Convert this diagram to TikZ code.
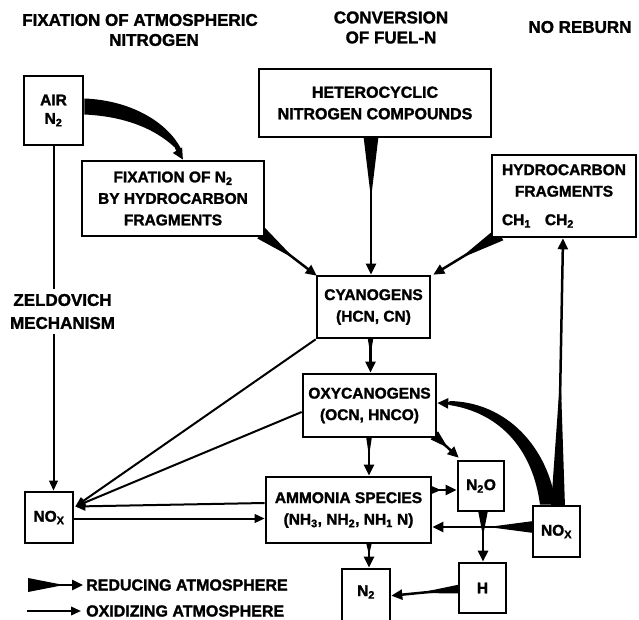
\documentclass[tikz,border=0pt]{standalone}
\usepackage{fontspec}
\setmainfont{Liberation Sans}[BoldFont={Liberation Sans Bold}, BoldFeatures={FakeBold=1.6}]
\usetikzlibrary{arrows.meta,calc}
\pgfdeclarelayer{paper}
\pgfdeclarelayer{links}
\pgfsetlayers{paper,links,main}

\newcommand\titlefont{\fontsize{17}{20}\selectfont\bfseries}
\newcommand\boxtextfont{\fontsize{15.5}{21.5}\selectfont\bfseries}
\newcommand\legendfont{\fontsize{16}{19}\selectfont\bfseries}

% tapered arrow for a reducing atmosphere:
% wedge of half-width #3 at (#1) narrowing to a line at fraction #4, arrow tip at (#2)
\newcommand\taperarrow[4]{%
  \fill ($(#1)!#3!90:(#2)$) -- ($(#1)!#4!(#2)$) -- ($(#1)!#3!-90:(#2)$) -- cycle;
  \draw[reducing] (#1) -- (#2);}

\tikzset{
  box/.style={draw, fill=white, line width=2.6pt, inner sep=0pt, align=center, font=\boxtextfont},
  heading/.style={align=center, font=\titlefont, inner sep=0pt},
  legendtext/.style={anchor=west, inner sep=0pt, font=\legendfont},
  reducing/.style={line width=2.5pt, -{Triangle[length=11pt,width=10pt]}},
  oxidizing/.style={line width=2pt, -{Triangle[length=10pt,width=8.5pt]}},
}

\begin{document}
\begin{tikzpicture}[x=1pt,y=-1pt]
\useasboundingbox (0,0) rectangle (639,620);
\begin{pgfonlayer}{paper}
  \fill[white] (0,0) rectangle (639,620);
\end{pgfonlayer}

% column headings
\node[heading] (hfix)  at (140,30)   {FIXATION OF ATMOSPHERIC\\\hspace*{28pt}NITROGEN};
\node[heading] (hconv) at (391,27.5) {CONVERSION\\OF FUEL-N};
\node[heading] (hreb)  at (580,27)   {NO REBURN};
\node[heading, fill=white, inner sep=5pt, font=\fontsize{17}{23}\selectfont\bfseries]
  (zel) at (62.5,311.5) {ZELDOVICH\\MECHANISM};

% species boxes
\node[box, minimum width=59,  minimum height=69] (air)  at (53.5,110.5) {AIR\\[-3pt]N\textsubscript{2}};
\node[box, minimum width=182, minimum height=75] (fix)  at (173,198.5)  {FIXATION OF N\textsubscript{2}\\BY HYDROCARBON\\FRAGMENTS};
\node[box, minimum width=232, minimum height=68, font=\fontsize{16}{21.5}\selectfont\bfseries]
  (het)  at (375,103) {HETEROCYCLIC\\NITROGEN COMPOUNDS};
\node[box, minimum width=144, minimum height=82] (hc)   at (564,196)    {HYDROCARBON\\FRAGMENTS\\[7pt]\rlap{CH\textsubscript{1}\hspace{14pt}CH\textsubscript{2}}\phantom{HYDROCARBON}};
\node[box, minimum width=113, minimum height=62] (cyan) at (373.5,307)  {CYANOGENS\\(HCN, CN)};
\node[box, minimum width=133, minimum height=63] (oxy)  at (369.5,405.5) {OXYCANOGENS\\(OCN, HNCO)};
\node[box, minimum width=165, minimum height=66] (amm)  at (348.5,510)  {AMMONIA SPECIES\\(NH\textsubscript{3}, NH\textsubscript{2}, NH\textsubscript{1} N)};
\node[box, minimum width=46,  minimum height=50] (ntwoo) at (481,486)   {N\textsubscript{2}O};
\node[box, minimum width=47,  minimum height=51] (noxr) at (556.5,531.5) {NO\textsubscript{X}};
\node[box, minimum width=48,  minimum height=51] (noxl) at (49,517.5)   {NO\textsubscript{X}};
\node[box, minimum width=47,  minimum height=50] (hyd)  at (482.5,588)  {H};
\node[box, minimum width=48,  minimum height=62,
      label={[font=\boxtextfont, yshift=8pt]center:N\textsubscript{2}}] (ntwo) at (366,600) {};

% legend
\node[legendtext] (redlbl) at (86,585) {REDUCING ATMOSPHERE};
\node[legendtext] (oxlbl)  at (86,611) {OXIDIZING ATMOSPHERE};

\begin{pgfonlayer}{links}
  % Zeldovich mechanism
  \draw[oxidizing] (air.south) -- (air.south |- noxl.north);

  % air nitrogen fixed by hydrocarbon fragments
  \coordinate (aU) at ($(air.east)+(0,-12)$);
  \coordinate (aL) at ($(air.east)+(0,4)$);
  \coordinate (fT) at ($(fix.north)+(10,0)$);
  \fill (aU) .. controls +(49,2) and +(-13,-25) .. ($(fT)+(-2,-11)$)
        -- ($(fT)+(-5,-9)$) .. controls +(-18,-19) and +(45,2) .. (aL) -- cycle;
  \draw[reducing] ($(fT)+(-7,-12)$) -- (fT);

  % into the cyanogens
  \coordinate (fixS) at ($(fix.south east)+(-4,-4)$);
  \coordinate (cyNW) at ($(cyan.north west)+(1,1)$);
  \taperarrow{fixS}{cyNW}{6.5pt}{0.6}
  \coordinate (hetS) at ($(het.south)+(-4,-2)$);
  \coordinate (cyN)  at (cyan.north -| hetS);
  \taperarrow{hetS}{cyN}{7.5pt}{0.45}
  \coordinate (hcS)  at ($(hc.south west)+(9,-4)$);
  \coordinate (cyNE) at ($(cyan.north east)+(2,0)$);
  \taperarrow{hcS}{cyNE}{7pt}{0.6}

  % cyanogens -> oxycanogens -> ammonia species -> N2
  \coordinate (cyS)  at ($(cyan.south)+(-3,-2)$);
  \coordinate (oxN)  at (oxy.north -| cyS);
  \taperarrow{cyS}{oxN}{3pt}{0.5}
  \coordinate (oxS)  at ($(oxy.south)+(-0.5,-2)$);
  \coordinate (amN)  at (amm.north -| oxS);
  \taperarrow{oxS}{amN}{3pt}{0.5}
  \coordinate (amS)  at ($(amm.south)+(20.5,-2)$);
  \coordinate (ntN)  at (ntwo.north -| amS);
  \taperarrow{amS}{ntN}{3pt}{0.5}

  % oxidation paths to NOx
  \coordinate (nxIn) at ($(noxl.east)+(1,-11)$);
  \draw[oxidizing] (cyan.south west) -- (nxIn);
  \draw[oxidizing] ($(oxy.west)+(0,6.5)$) -- (nxIn);
  \draw[oxidizing] ($(amm.west)+(0,-7)$) -- (nxIn);
  \draw[oxidizing] ($(noxl.east)+(0,1)$) -- ($(amm.west)+(0,8.5)$);

  % N2O formation and destruction
  \coordinate (oxSE) at ($(oxy.south east)+(-3,-3)$);
  \coordinate (nNW)  at ($(ntwoo.north west)+(2,-2)$);
  \taperarrow{oxSE}{nNW}{5.5pt}{0.55}
  \coordinate (amE)  at ($(amm.east)+(-2,-20)$);
  \coordinate (nW)   at (ntwoo.west |- amE);
  \taperarrow{amE}{nW}{4.5pt}{0.4}
  \coordinate (nS)   at ($(ntwoo.south)+(2,-2)$);
  \coordinate (hN)   at (hyd.north -| nS);
  \taperarrow{nS}{hN}{5pt}{0.5}
  \coordinate (hW)   at ($(hyd.west)+(2,1)$);
  \coordinate (ntE)  at ($(ntwo.north east)+(0,28)$);
  \taperarrow{hW}{ntE}{4.5pt}{0.6}

  % reburning of NOx
  \coordinate (nrW)  at ($(noxr.west)+(2,-4.5)$);
  \coordinate (amE2) at (amm.east |- nrW);
  \taperarrow{nrW}{amE2}{6pt}{0.45}
  \coordinate (nrN)  at ($(noxr.north)+(1.5,2)$);
  \coordinate (hcB)  at ($(hc.south)+(-1,0)$);
  \taperarrow{nrN}{hcB}{7pt}{0.5}
  \coordinate (rO)   at ($(noxr.north)+(-0.5,0)$);
  \coordinate (rI)   at ($(noxr.north)+(-16.5,0)$);
  \coordinate (oxE)  at ($(oxy.east)+(0,-2.5)$);
  \fill (rO) .. controls +(-8,-58) and +(57,1) .. ($(oxE)+(12,-2)$)
        -- ($(oxE)+(12,2)$) .. controls +(52,8) and +(-7,-54) .. (rI) -- cycle;
  \draw[reducing] ($(oxE)+(14,0.5)$) -- (oxE);

  % legend arrows
  \coordinate (lr) at (28,585);
  \coordinate (lrTip) at ($(redlbl.west)+(-3,0)$);
  \taperarrow{lr}{lrTip}{7pt}{0.65}
  \draw[oxidizing] (27,611) -- ($(oxlbl.west)+(-5,0)$);
\end{pgfonlayer}
\end{tikzpicture}
\end{document}
